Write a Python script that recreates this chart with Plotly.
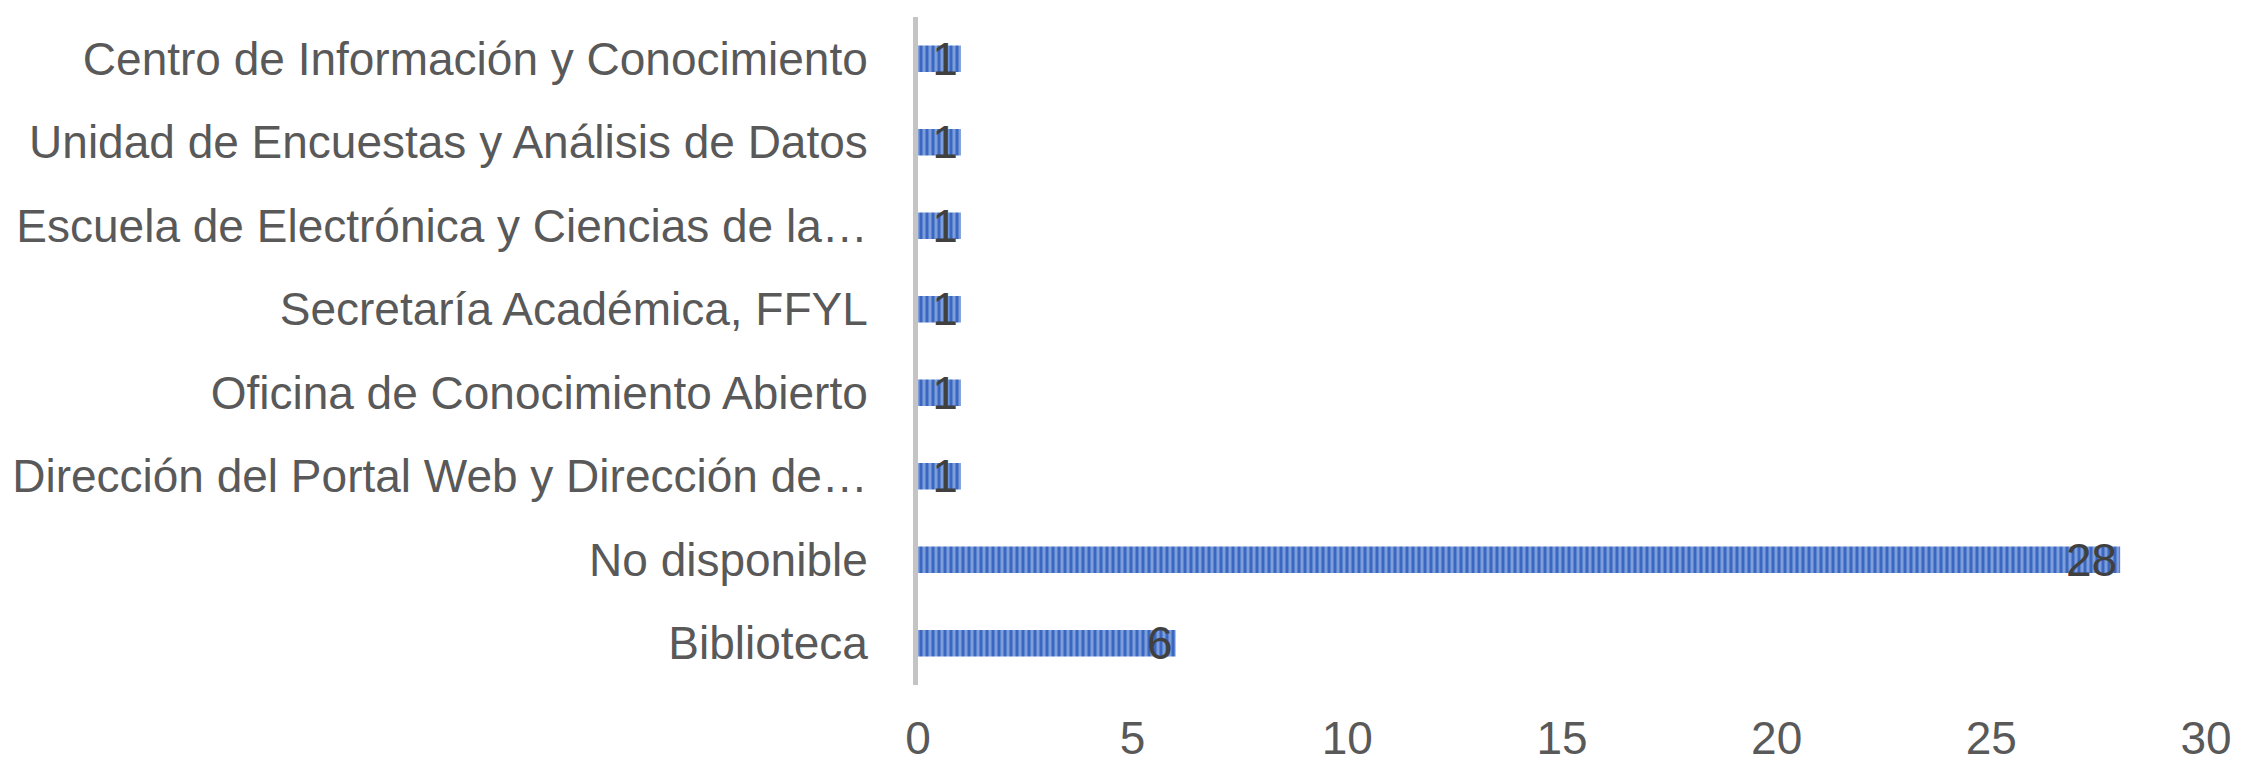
import plotly.graph_objects as go

categories = [
    "Biblioteca",
    "No disponible",
    "Dirección del Portal Web y Dirección de…",
    "Oficina de Conocimiento Abierto",
    "Secretaría Académica, FFYL",
    "Escuela de Electrónica y Ciencias de la…",
    "Unidad de Encuestas y Análisis de Datos",
    "Centro de Información y Conocimiento",
]
values = [6, 28, 1, 1, 1, 1, 1, 1]
x_ticks = [0, 5, 10, 15, 20, 25, 30]

FONT = "Liberation Sans, Arial, sans-serif"
GRAY = "#595959"

fig = go.Figure(
    go.Bar(
        x=values,
        y=categories,
        orientation="h",
        text=[str(v) for v in values],
        textposition="inside",
        insidetextanchor="end",
        textangle=0,
        constraintext="none",
        textfont=dict(family=FONT, size=46, color="#404040"),
        marker=dict(
            color="#4472C4",
            line=dict(width=0),
            pattern=dict(shape="|", size=6, solidity=0.5,
                         fgcolor="#3A68C0", bgcolor="#7E9DDA", fillmode="replace"),
        ),
        width=0.32,
        cliponaxis=False,
    )
)

fig.update_layout(
    width=2266,
    height=761,
    margin=dict(l=910, r=68, t=9, b=84),
    paper_bgcolor="white",
    plot_bgcolor="white",
    font=dict(family=FONT, size=46, color=GRAY),
    showlegend=False,
    xaxis=dict(
        range=[0, 30],
        tickvals=x_ticks,
        ticktext=[str(t) for t in x_ticks],
        showgrid=False,
        zeroline=False,
        showline=False,
        ticks="",
        ticklabelstandoff=22,
        automargin=False,
        tickfont=dict(family=FONT, size=46, color=GRAY),
    ),
    yaxis=dict(
        categoryorder="array",
        categoryarray=categories,
        showgrid=False,
        zeroline=False,
        showline=True,
        linecolor="#C4C4C4",
        linewidth=5,
        ticks="",
        ticklabelstandoff=36,
        automargin=False,
        tickfont=dict(family=FONT, size=46, color=GRAY),
    ),
)

fig.write_html("out.html")
